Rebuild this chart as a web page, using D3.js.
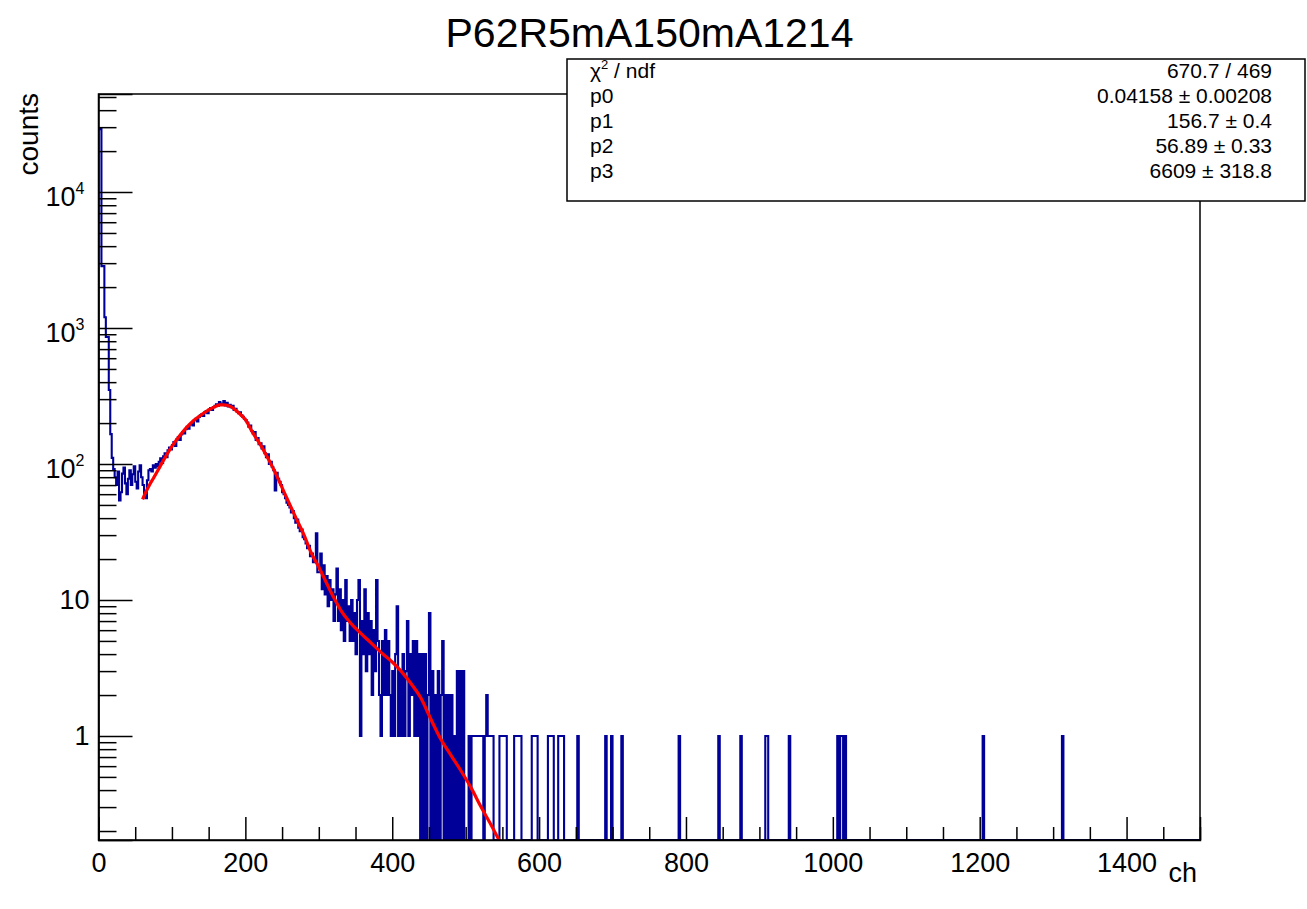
<!DOCTYPE html>
<html>
<head>
<meta charset="utf-8">
<script src="https://cdn.jsdelivr.net/npm/d3@7"></script>
<style>
  html, body { margin: 0; padding: 0; background: #fff; }
  svg { display: block; }
  text { font-family: "Liberation Sans", Arial, Helvetica, sans-serif; fill: #000; }
</style>
</head>
<body>
<svg id="chart" width="1307" height="909"></svg>
<script>
// ---------------- data ----------------
const titleText = "P62R5mA150mA1214";
const xLabel = "ch";
const yLabel = "counts";
const binWidth = 2;             // channels per bin
const xRange = [0, 1500];

// counts per 2-channel bin, from ch 0 to ch 500
const counts = [
  29000, 29000, 2850, 2850, 1200, 860, 860, 350, 166, 111,
  92, 80, 70, 88, 54, 62, 85, 94, 72, 60,
  78, 90, 70, 84, 96, 74, 66, 88, 98, 80,
  70, 58, 56, 76, 90, 92, 88, 98, 94, 100,
  96, 104, 110, 102, 114, 120, 112, 126, 132, 128,
  138, 145, 136, 152, 158, 150, 165, 172, 168, 180,
  188, 182, 195, 200, 192, 210, 215, 206, 222, 228,
  232, 226, 240, 245, 236, 252, 258, 250, 262, 268,
  275, 268, 285, 272, 278, 290, 270, 282, 265, 272,
  262, 268, 250, 255, 242, 236, 240, 228, 222, 215,
  210, 202, 188, 192, 175, 168, 172, 150, 155, 140,
  142, 130, 135, 120, 112, 118, 100, 104, 95, 90,
  64, 86, 78, 74, 70, 62, 60, 56, 52, 50,
  48, 44, 45, 40, 37, 39, 34, 32, 33, 29,
  28, 26, 24, 25, 21, 22, 19, 20, 31, 16,
  16, 22, 12, 18, 11, 15, 9, 14, 10, 12,
  7, 11, 17, 7, 12, 6, 10, 5, 14, 7,
  9, 5, 10, 5, 8, 4, 10, 14, 1, 7,
  4, 12, 3, 8, 4, 7, 2, 6, 3, 14,
  5, 2, 1, 5, 2, 6, 2, 5, 2, 1,
  3, 1, 4, 9, 1, 3, 1, 4, 1, 3,
  7, 1, 4, 2, 5, 1, 5, 1, 4, 0,
  4, 0, 4, 0, 2, 8, 0, 3, 0, 2,
  0, 3, 0, 2, 5, 0, 2, 0, 2, 0,
  2, 0, 1, 0, 3, 0, 3, 0, 3, 0
];

// sparse tail (ch >= 500): bin start channel and its count
const tailCh = [504, 508, 510, 512, 514, 516, 518, 520, 522, 526, 528, 530, 532, 534, 536,
  546, 548, 550, 552, 554, 566, 568, 570, 572, 574, 590, 592, 594, 596,
  612, 614, 616, 618, 626, 628, 630, 632, 652, 690, 698, 712, 790, 844, 874,
  908, 910, 940, 1006, 1010, 1012, 1016, 1204, 1312];
const tailN = [1, 1, 1, 1, 1, 1, 1, 1, 1, 1, 2, 1, 1, 1, 1,
  1, 1, 1, 1, 1, 1, 1, 1, 1, 1, 1, 1, 1, 1,
  1, 1, 1, 1, 1, 1, 1, 1, 1, 1, 1, 1, 1, 1, 1,
  1, 1, 1, 1, 1, 1, 1, 1, 1];

// fit curve (red)
const fitCh  = [60, 65, 70, 75, 80, 90, 100, 110, 120, 130, 140, 150, 160, 165, 170, 180, 190, 200, 210, 220,
  230, 240, 250, 260, 270, 280, 290, 300, 310, 320, 330, 340, 350, 360, 370, 385, 400, 412, 425, 439,
  452, 466, 480, 494, 508, 521, 533, 544, 556];
const fitVal = [55, 63, 71, 79, 88, 110, 135, 160, 186, 210, 230, 250, 266, 272, 272, 265, 240, 212, 170, 140,
  112, 88, 67, 51, 39, 30, 22, 17.5, 13.5, 10.5, 8.4, 7.1, 6.2, 5.5, 4.9, 4.1, 3.5, 3.0, 2.45, 1.9,
  1.35, 0.95, 0.72, 0.55, 0.41, 0.30, 0.23, 0.178, 0.135];

// stats box
const statNames  = ["χ2 / ndf", "p0", "p1", "p2", "p3"];
const statValues = ["670.7 / 469", "0.04158 ± 0.00208", "156.7 ± 0.4", "56.89 ± 0.33", "6609 ± 318.8"];

// axis ticks
const xMajorTicks = [0, 200, 400, 600, 800, 1000, 1200, 1400];
const yMajorTicks = [1, 10, 100, 1000, 10000];

// ---------------- layout ----------------
const svg = d3.select("#chart");
const L = 98.5, R = 1200, T = 94, B = 840;
const yMin = 0.1718, yMax = 52600;

const x = d3.scaleLinear().domain(xRange).range([L, R]);
const y = d3.scaleLog().domain([yMin, yMax]).range([B, T]);

svg.append("defs").append("clipPath").attr("id", "plotclip")
  .append("rect").attr("x", L).attr("y", T).attr("width", R - L).attr("height", B - T);

// ---------------- histogram ----------------
const nBins = Math.round((xRange[1] - xRange[0]) / binWidth);
const full = new Array(nBins).fill(0);
counts.forEach((c, i) => { full[i] = c; });
tailCh.forEach((c, i) => { full[Math.floor(c / binWidth)] = tailN[i]; });

const pts = [[0, yMin], [0, full[0]]];
for (let i = 1; i < nBins; i++) pts.push([i * binWidth, full[i]]);
pts.push([nBins * binWidth, full[nBins - 1]]);

const histLine = d3.line()
  .x(d => x(d[0]))
  .y(d => y(Math.max(d[1], yMin)))
  .curve(d3.curveStepAfter);

svg.append("path")
  .attr("d", histLine(pts))
  .attr("fill", "none")
  .attr("stroke", "#000099")
  .attr("stroke-width", 2.1)
  .attr("clip-path", "url(#plotclip)");

// ---------------- fit ----------------
const fitLine = d3.line()
  .x((d, i) => x(fitCh[i]))
  .y((d, i) => y(fitVal[i]))
  .curve(d3.curveMonotoneX);

svg.append("path")
  .attr("d", fitLine(fitCh))
  .attr("fill", "none")
  .attr("stroke", "#ff0000")
  .attr("stroke-width", 3.2)
  .attr("clip-path", "url(#plotclip)");

// ---------------- frame ----------------
svg.append("rect")
  .attr("x", L).attr("y", T).attr("width", R - L).attr("height", B - T)
  .attr("fill", "none").attr("stroke", "#000").attr("stroke-width", 1.5);

// ---------------- axes ----------------
const fontFam = '"Liberation Sans", Arial, Helvetica, sans-serif';

// x minor ticks
const xMinor = d3.range(0, 1501, 50).filter(v => v % 200 !== 0);
svg.append("g").attr("transform", `translate(0,${B})`)
  .call(d3.axisBottom(x).tickValues(xMinor).tickSize(-13).tickFormat(""))
  .call(g => g.select(".domain").remove())
  .call(g => g.selectAll("line").attr("stroke", "#000").attr("stroke-width", 1.5));

// x major
svg.append("g").attr("transform", `translate(0,${B})`)
  .call(d3.axisBottom(x).tickValues(xMajorTicks).tickSize(-23).tickPadding(13).tickFormat(d3.format("d")))
  .call(g => g.select(".domain").attr("stroke", "#000").attr("stroke-width", 1.5))
  .call(g => g.selectAll("line").attr("stroke", "#000").attr("stroke-width", 1.5))
  .call(g => g.selectAll("text").attr("font-size", 27).attr("font-family", fontFam).attr("fill", "#000"));

// y minor ticks
const yMinor = [];
for (let e = -1; e <= 4; e++) {
  for (let m = 2; m <= 9; m++) {
    const v = m * Math.pow(10, e);
    if (v >= yMin && v <= yMax) yMinor.push(v);
  }
}
svg.append("g").attr("transform", `translate(${L},0)`)
  .call(d3.axisLeft(y).tickValues(yMinor).tickSize(-18).tickFormat(""))
  .call(g => g.select(".domain").remove())
  .call(g => g.selectAll("line").attr("stroke", "#000").attr("stroke-width", 1.5));

// y major
const yAxisG = svg.append("g").attr("transform", `translate(${L},0)`)
  .call(d3.axisLeft(y).tickValues(yMajorTicks).tickSize(-34).tickPadding(9).tickFormat(d => String(d)))
  .call(g => g.select(".domain").attr("stroke", "#000").attr("stroke-width", 1.5))
  .call(g => g.selectAll("line").attr("stroke", "#000").attr("stroke-width", 1.5));

yAxisG.selectAll(".tick text")
  .attr("font-size", 27).attr("font-family", fontFam).attr("fill", "#000")
  .each(function (d) {
    if (d >= 100) {
      const t = d3.select(this);
      const ex = Math.round(Math.log10(d));
      t.text("10").attr("dy", "0.5em").attr("x", -14);
      t.append("tspan").attr("dy", -12).attr("font-size", 16).text(ex);
    }
  });

// axis titles
svg.append("text")
  .attr("transform", `translate(38,93) rotate(-90)`)
  .attr("text-anchor", "end")
  .attr("font-size", 28)
  .text(yLabel);

svg.append("text")
  .attr("x", 1197).attr("y", 882)
  .attr("text-anchor", "end")
  .attr("font-size", 27)
  .text(xLabel);

// title
svg.append("text")
  .attr("x", 649.5).attr("y", 47)
  .attr("text-anchor", "middle")
  .attr("font-size", 41)
  .text(titleText);

// ---------------- stats box ----------------
const bx = 567, by = 59, bw = 738, bh = 142;
svg.append("rect")
  .attr("x", bx).attr("y", by).attr("width", bw).attr("height", bh)
  .attr("fill", "#fff").attr("stroke", "#000").attr("stroke-width", 1.5);

const rowY = d3.scaleLinear().domain([0, statNames.length - 1]).range([78, 178]);

statNames.forEach((name, i) => {
  const t = svg.append("text")
    .attr("x", 590).attr("y", rowY(i))
    .attr("font-size", 21);
  if (i === 0) {
    t.append("tspan").text("χ");
    t.append("tspan").attr("dy", -9).attr("font-size", 13).text("2");
    t.append("tspan").attr("dy", 9).text(" / ndf");
  } else {
    t.text(name);
  }
  svg.append("text")
    .attr("x", 1272).attr("y", rowY(i))
    .attr("text-anchor", "end")
    .attr("font-size", 21)
    .text(statValues[i]);
});
</script>
</body>
</html>
